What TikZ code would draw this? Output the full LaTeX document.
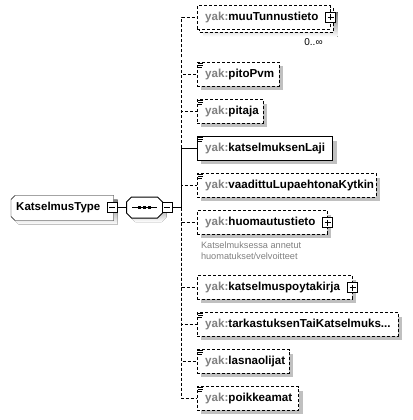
\documentclass[tikz,border=0pt]{standalone}
\usepackage{fontspec}
\setmainfont{Liberation Sans}
\usetikzlibrary{backgrounds,calc}
\definecolor{shade}{RGB}{192,192,192}
\definecolor{pfx}{RGB}{128,128,128}
\definecolor{note}{RGB}{128,128,128}
\newcommand{\pf}{\textcolor{pfx}{yak:}}
\newcommand{\simpleicon}[1]{%
  \draw[icon] ([shift={(1.6pt,-1.2pt)}]#1.north west) -- +(5,0)
              ([shift={(1.6pt,-3.2pt)}]#1.north west) -- +(5,0)
              ([shift={(1.6pt,-5.2pt)}]#1.north west) -- +(3.5,0);}
\newcommand{\plussign}[1]{%
  \draw[sign] (#1.center) +(-3,0) -- +(3,0) +(0,-3) -- +(0,3);}
\newcommand{\minussign}[1]{%
  \draw[sign] (#1.center) +(-3,0) -- +(3,0);}
\begin{document}
\begin{tikzpicture}[x=1pt,y=-1pt,line width=1pt,
  boxbase/.style={draw, fill=white, rectangle, anchor=west, minimum height=23.6pt,
    inner xsep=8pt, inner ysep=0pt, align=left,
    font=\fontsize{11.6}{13}\selectfont\bfseries},
  shadowed/.style={preaction={draw=none, fill=shade, transform canvas={shift={(4pt,-4pt)}}}},
  elbox/.style={boxbase, shadowed},
  optbox/.style={elbox, dash pattern=on 3pt off 2pt},
  conn/.style={line width=1pt},
  optconn/.style={conn, dash pattern=on 3pt off 2pt},
  pm/.style={draw, solid, fill=white, minimum size=10pt, inner sep=0pt, line width=0.9pt},
  sign/.style={line width=0.9pt, solid},
  icon/.style={line width=0.8pt, solid}]
\useasboundingbox (0,0) rectangle (412,420);

% root type
\node[anchor=west, minimum height=24pt, inner xsep=4.7pt, inner ysep=0pt, text width=92.3pt,
      align=left, font=\fontsize{11.5}{13}\selectfont\bfseries] (kt) at (11,208) {KatselmusType};
\begin{scope}[on background layer]
  \fill[shade, transform canvas={shift={(4pt,-4pt)}}]
    ($(kt.north west)+(4,0)$) -- (kt.north east) -- (kt.south east) -- ($(kt.south west)+(4,0)$)
    -- ($(kt.south west)+(0,-4)$) -- ($(kt.north west)+(0,4)$) -- cycle;
  \draw[fill=white]
    ($(kt.north west)+(4,0)$) -- (kt.north east) -- (kt.south east) -- ($(kt.south west)+(4,0)$)
    -- ($(kt.south west)+(0,-4)$) -- ($(kt.north west)+(0,4)$) -- cycle;
\end{scope}
\node[pm] (ktm) at (112,207.5) {};
\minussign{ktm}

% sequence compositor
\node[minimum width=35pt, minimum height=20pt, inner sep=0pt] (seq) at (144.5,207.5) {};
\fill[shade, transform canvas={shift={(4pt,-4pt)}}]
  ($(seq.north west)+(5,0)$) -- ($(seq.north east)+(-5,0)$) -- ($(seq.north east)+(0,5)$)
  -- ($(seq.south east)+(0,-5)$) -- ($(seq.south east)+(-5,0)$) -- ($(seq.south west)+(5,0)$)
  -- ($(seq.south west)+(0,-5)$) -- ($(seq.north west)+(0,5)$) -- cycle;
\draw[fill=white]
  ($(seq.north west)+(5,0)$) -- ($(seq.north east)+(-5,0)$) -- ($(seq.north east)+(0,5)$)
  -- ($(seq.south east)+(0,-5)$) -- ($(seq.south east)+(-5,0)$) -- ($(seq.south west)+(5,0)$)
  -- ($(seq.south west)+(0,-5)$) -- ($(seq.north west)+(0,5)$) -- cycle;
\draw (seq.center) +(-12.5,0) -- +(12.5,0);
\foreach \dx in {-5,0,5} \fill ($(seq.center)+(\dx,0)$) +(-1.6,-1.6) rectangle +(1.6,1.6);
\node[pm] (seqm) at (167,207.5) {};
\minussign{seqm}
\draw[conn] (ktm.east) -- (seq.west);

% children
\node[boxbase, dash pattern=on 3pt off 2pt, text width=117pt] (muu) at (196.7,17.5) {\pf muuTunnustieto};
\begin{scope}[on background layer]
  \fill[shade] ([shift={(7pt,-7pt)}]muu.north west) rectangle ([shift={(7pt,-7pt)}]muu.south east);
  \draw[fill=white, dash pattern=on 3pt off 2pt] ([shift={(2.5pt,-2.5pt)}]muu.north west) rectangle ([shift={(2.5pt,-2.5pt)}]muu.south east);
\end{scope}
\node[pm] (muup) at (muu.east) {};
\plussign{muup}
\node[font=\fontsize{10}{12}\selectfont, inner sep=0pt] (occ) at (313.5,42.5) {0..∞};

\node[optbox, text width=66pt] (pito) at (196.7,74.2) {\pf pitoPvm};
\simpleicon{pito}
\node[optbox, text width=50pt] (pitaja) at (196.7,111.3) {\pf pitaja};
\simpleicon{pitaja}
\node[elbox, text width=119.6pt] (laji) at (196.7,148.5) {\pf katselmuksenLaji};
\simpleicon{laji}
\node[optbox, text width=163pt] (vaad) at (196.7,185.5) {\pf vaadittuLupaehtonaKytkin};
\simpleicon{vaad}
\node[optbox, text width=114pt] (huom) at (196.7,222.5) {\pf huomautustieto};
\node[pm] (huomp) at (huom.east) {};
\plussign{huomp}
\node[anchor=north west, inner sep=0pt, font=\fontsize{9.2}{10.6}\selectfont, text=note, align=left]
  (ann) at (200.5,241.4) {Katselmuksessa annetut\\huomatukset/velvoitteet};
\node[optbox, text width=139pt] (katp) at (196.7,287.5) {\pf katselmuspoytakirja};
\node[pm] (katpp) at (katp.east) {};
\plussign{katpp}
\node[optbox, text width=185pt] (tark) at (196.7,324.4) {\pf tarkastuksenTaiKatselmuks...};
\simpleicon{tark}
\node[optbox, text width=76pt] (lasn) at (196.7,361.3) {\pf lasnaolijat};
\simpleicon{lasn}
\node[optbox, text width=85.6pt] (poik) at (196.7,398.3) {\pf poikkeamat};
\simpleicon{poik}

% connectors
\coordinate (bus) at (181.5,207.5);
\draw[conn] (seqm.east) -- (bus);
\foreach \n in {muu,pito,pitaja,vaad,huom,katp,tark,lasn,poik}
  \draw[optconn] (bus) |- (\n.west);
\draw[conn] (bus) |- (laji.west);
\end{tikzpicture}
\end{document}
